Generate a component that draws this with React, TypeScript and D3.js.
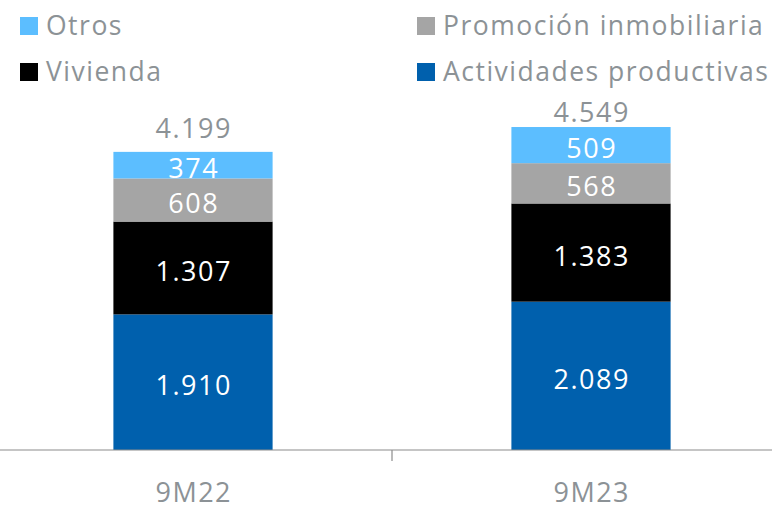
import React from 'react';
import * as d3 from 'd3';

const categories = ['9M22', '9M23'];
const seriesNames = ['Actividades productivas', 'Vivienda', 'Promoción inmobiliaria', 'Otros'];
const actividades = [1910, 2089];
const vivienda = [1307, 1383];
const promocion = [608, 568];
const otros = [374, 509];
const totals = [4199, 4549];

const colors = ['#0060AD', '#000000', '#A5A5A5', '#5CBEFF'];
const grey = '#8C9296';
const font = "'Open Sans', sans-serif";

const W = 772;
const H = 506;

const fmt = d3.formatLocale({ decimal: ',', thousands: '.', grouping: [3], currency: ['', '€'] }).format(',');

export default function App() {
  const x = d3.scaleBand().domain(categories).range([-6, 790]).paddingInner(0.6).paddingOuter(0.3);
  const y = d3.scaleLinear().domain([0, 5000]).range([450, 95]);

  const rows = categories.map((c, i) => ({
    cat: c,
    'Actividades productivas': actividades[i],
    Vivienda: vivienda[i],
    'Promoción inmobiliaria': promocion[i],
    Otros: otros[i],
  }));
  const stacked = d3.stack<any>().keys(seriesNames)(rows);

  // legend: two columns, two rows
  const legend = [
    { name: 'Otros', color: colors[3], x: 20, y: 17 },
    { name: 'Promoción inmobiliaria', color: colors[2], x: 417, y: 17 },
    { name: 'Vivienda', color: colors[1], x: 20, y: 63 },
    { name: 'Actividades productivas', color: colors[0], x: 417, y: 63 },
  ];
  const ls = 1.5;

  return (
    <svg width={W} height={H} style={{ position: 'absolute', left: 0, top: 0 }} fontFamily={font}>
      <rect width={W} height={H} fill="#fff" />
      {legend.map((l) => (
        <g key={l.name}>
          <rect x={l.x} y={l.y} width={18} height={18} fill={l.color} />
          <text x={l.x + 26} y={l.y + 18} fontSize={26.5} letterSpacing={ls} fill={grey}>{l.name}</text>
        </g>
      ))}
      {stacked.map((s, si) => (
        <g key={s.key}>
          {s.map((d, i) => {
            const y0 = y(d[0]);
            const y1 = y(d[1]);
            const xc = (x(categories[i]) as number) + x.bandwidth() / 2;
            return (
              <g key={i}>
                <rect x={x(categories[i])} y={y1} width={x.bandwidth()} height={y0 - y1} fill={colors[si]} />
                <text x={xc + ls / 2} y={(y0 + y1) / 2 + 13} textAnchor="middle" fontSize={27} letterSpacing={ls} fill="#fff">
                  {fmt(d[1] - d[0])}
                </text>
              </g>
            );
          })}
        </g>
      ))}
      {totals.map((t, i) => (
        <text
          key={i}
          x={(x(categories[i]) as number) + x.bandwidth() / 2 + ls / 2}
          y={Math.max(y(t) - 14, 122)}
          textAnchor="middle"
          fontSize={27}
          letterSpacing={ls}
          fill={grey}
        >
          {fmt(t)}
        </text>
      ))}
      <line x1={0} x2={W} y1={450} y2={450} stroke="#8C8C8C" strokeWidth={1.2} />
      <line x1={x.step() - 6} x2={x.step() - 6} y1={450} y2={461} stroke="#8C8C8C" strokeWidth={1.2} />
      {categories.map((c) => (
        <text key={c} x={(x(c) as number) + x.bandwidth() / 2 + ls / 2} y={502} textAnchor="middle" fontSize={27} letterSpacing={ls} fill={grey}>
          {c}
        </text>
      ))}
    </svg>
  );
}
